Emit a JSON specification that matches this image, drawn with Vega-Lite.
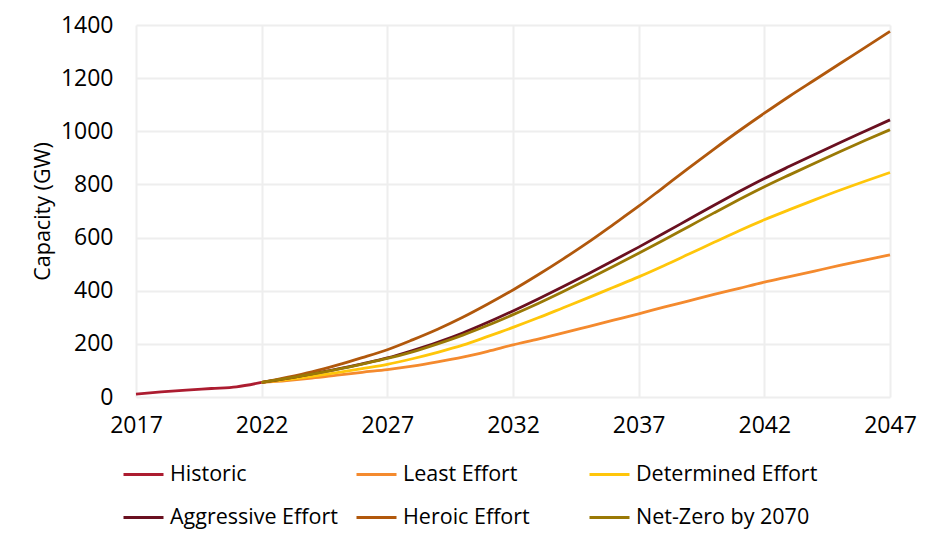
{
  "$schema": "https://vega.github.io/schema/vega-lite/v6.json",
  "autosize": "none",
  "width": 754,
  "height": 372,
  "padding": {"left": 136, "top": 25, "right": 48, "bottom": 152},
  "background": "white",
  "config": {
    "font": "Open Sans",
    "view": {"stroke": null},
    "axis": {"labelFont": "Open Sans", "titleFont": "Open Sans", "labelColor": "#000000", "titleColor": "#000000"}
  },
  "datasets": {
    "d": [
      {"series": "Historic", "year": 2017, "value": 11},
      {"series": "Historic", "year": 2018, "value": 19},
      {"series": "Historic", "year": 2019, "value": 26},
      {"series": "Historic", "year": 2020, "value": 32},
      {"series": "Historic", "year": 2021, "value": 38},
      {"series": "Historic", "year": 2022, "value": 55},

      {"series": "Least Effort", "year": 2022, "value": 55},
      {"series": "Least Effort", "year": 2023, "value": 62},
      {"series": "Least Effort", "year": 2024, "value": 71},
      {"series": "Least Effort", "year": 2025, "value": 82},
      {"series": "Least Effort", "year": 2026, "value": 93},
      {"series": "Least Effort", "year": 2027, "value": 103},
      {"series": "Least Effort", "year": 2028, "value": 116},
      {"series": "Least Effort", "year": 2029, "value": 132},
      {"series": "Least Effort", "year": 2030, "value": 150},
      {"series": "Least Effort", "year": 2031, "value": 172},
      {"series": "Least Effort", "year": 2032, "value": 196},
      {"series": "Least Effort", "year": 2033, "value": 218},
      {"series": "Least Effort", "year": 2034, "value": 241},
      {"series": "Least Effort", "year": 2035, "value": 265},
      {"series": "Least Effort", "year": 2036, "value": 289},
      {"series": "Least Effort", "year": 2037, "value": 313},
      {"series": "Least Effort", "year": 2038, "value": 338},
      {"series": "Least Effort", "year": 2039, "value": 362},
      {"series": "Least Effort", "year": 2040, "value": 386},
      {"series": "Least Effort", "year": 2041, "value": 409},
      {"series": "Least Effort", "year": 2042, "value": 432},
      {"series": "Least Effort", "year": 2043, "value": 453},
      {"series": "Least Effort", "year": 2044, "value": 474},
      {"series": "Least Effort", "year": 2045, "value": 495},
      {"series": "Least Effort", "year": 2046, "value": 515},
      {"series": "Least Effort", "year": 2047, "value": 535},

      {"series": "Determined Effort", "year": 2022, "value": 55},
      {"series": "Determined Effort", "year": 2023, "value": 65},
      {"series": "Determined Effort", "year": 2024, "value": 78},
      {"series": "Determined Effort", "year": 2025, "value": 92},
      {"series": "Determined Effort", "year": 2026, "value": 107},
      {"series": "Determined Effort", "year": 2027, "value": 123},
      {"series": "Determined Effort", "year": 2028, "value": 144},
      {"series": "Determined Effort", "year": 2029, "value": 168},
      {"series": "Determined Effort", "year": 2030, "value": 195},
      {"series": "Determined Effort", "year": 2031, "value": 228},
      {"series": "Determined Effort", "year": 2032, "value": 262},
      {"series": "Determined Effort", "year": 2033, "value": 298},
      {"series": "Determined Effort", "year": 2034, "value": 336},
      {"series": "Determined Effort", "year": 2035, "value": 374},
      {"series": "Determined Effort", "year": 2036, "value": 413},
      {"series": "Determined Effort", "year": 2037, "value": 452},
      {"series": "Determined Effort", "year": 2038, "value": 494},
      {"series": "Determined Effort", "year": 2039, "value": 538},
      {"series": "Determined Effort", "year": 2040, "value": 582},
      {"series": "Determined Effort", "year": 2041, "value": 626},
      {"series": "Determined Effort", "year": 2042, "value": 667},
      {"series": "Determined Effort", "year": 2043, "value": 705},
      {"series": "Determined Effort", "year": 2044, "value": 742},
      {"series": "Determined Effort", "year": 2045, "value": 778},
      {"series": "Determined Effort", "year": 2046, "value": 812},
      {"series": "Determined Effort", "year": 2047, "value": 845},

      {"series": "Aggressive Effort", "year": 2022, "value": 55},
      {"series": "Aggressive Effort", "year": 2023, "value": 70},
      {"series": "Aggressive Effort", "year": 2024, "value": 87},
      {"series": "Aggressive Effort", "year": 2025, "value": 105},
      {"series": "Aggressive Effort", "year": 2026, "value": 125},
      {"series": "Aggressive Effort", "year": 2027, "value": 147},
      {"series": "Aggressive Effort", "year": 2028, "value": 175},
      {"series": "Aggressive Effort", "year": 2029, "value": 206},
      {"series": "Aggressive Effort", "year": 2030, "value": 241},
      {"series": "Aggressive Effort", "year": 2031, "value": 281},
      {"series": "Aggressive Effort", "year": 2032, "value": 324},
      {"series": "Aggressive Effort", "year": 2033, "value": 369},
      {"series": "Aggressive Effort", "year": 2034, "value": 416},
      {"series": "Aggressive Effort", "year": 2035, "value": 464},
      {"series": "Aggressive Effort", "year": 2036, "value": 514},
      {"series": "Aggressive Effort", "year": 2037, "value": 564},
      {"series": "Aggressive Effort", "year": 2038, "value": 616},
      {"series": "Aggressive Effort", "year": 2039, "value": 669},
      {"series": "Aggressive Effort", "year": 2040, "value": 722},
      {"series": "Aggressive Effort", "year": 2041, "value": 773},
      {"series": "Aggressive Effort", "year": 2042, "value": 822},
      {"series": "Aggressive Effort", "year": 2043, "value": 868},
      {"series": "Aggressive Effort", "year": 2044, "value": 913},
      {"series": "Aggressive Effort", "year": 2045, "value": 957},
      {"series": "Aggressive Effort", "year": 2046, "value": 1000},
      {"series": "Aggressive Effort", "year": 2047, "value": 1043},

      {"series": "Heroic Effort", "year": 2022, "value": 55},
      {"series": "Heroic Effort", "year": 2023, "value": 74},
      {"series": "Heroic Effort", "year": 2024, "value": 95},
      {"series": "Heroic Effort", "year": 2025, "value": 120},
      {"series": "Heroic Effort", "year": 2026, "value": 148},
      {"series": "Heroic Effort", "year": 2027, "value": 178},
      {"series": "Heroic Effort", "year": 2028, "value": 215},
      {"series": "Heroic Effort", "year": 2029, "value": 255},
      {"series": "Heroic Effort", "year": 2030, "value": 300},
      {"series": "Heroic Effort", "year": 2031, "value": 350},
      {"series": "Heroic Effort", "year": 2032, "value": 403},
      {"series": "Heroic Effort", "year": 2033, "value": 460},
      {"series": "Heroic Effort", "year": 2034, "value": 520},
      {"series": "Heroic Effort", "year": 2035, "value": 583},
      {"series": "Heroic Effort", "year": 2036, "value": 650},
      {"series": "Heroic Effort", "year": 2037, "value": 718},
      {"series": "Heroic Effort", "year": 2038, "value": 790},
      {"series": "Heroic Effort", "year": 2039, "value": 862},
      {"series": "Heroic Effort", "year": 2040, "value": 933},
      {"series": "Heroic Effort", "year": 2041, "value": 1002},
      {"series": "Heroic Effort", "year": 2042, "value": 1068},
      {"series": "Heroic Effort", "year": 2043, "value": 1132},
      {"series": "Heroic Effort", "year": 2044, "value": 1193},
      {"series": "Heroic Effort", "year": 2045, "value": 1254},
      {"series": "Heroic Effort", "year": 2046, "value": 1315},
      {"series": "Heroic Effort", "year": 2047, "value": 1376},

      {"series": "Net-Zero by 2070", "year": 2022, "value": 55},
      {"series": "Net-Zero by 2070", "year": 2023, "value": 70},
      {"series": "Net-Zero by 2070", "year": 2024, "value": 86},
      {"series": "Net-Zero by 2070", "year": 2025, "value": 104},
      {"series": "Net-Zero by 2070", "year": 2026, "value": 124},
      {"series": "Net-Zero by 2070", "year": 2027, "value": 145},
      {"series": "Net-Zero by 2070", "year": 2028, "value": 170},
      {"series": "Net-Zero by 2070", "year": 2029, "value": 200},
      {"series": "Net-Zero by 2070", "year": 2030, "value": 233},
      {"series": "Net-Zero by 2070", "year": 2031, "value": 270},
      {"series": "Net-Zero by 2070", "year": 2032, "value": 310},
      {"series": "Net-Zero by 2070", "year": 2033, "value": 352},
      {"series": "Net-Zero by 2070", "year": 2034, "value": 397},
      {"series": "Net-Zero by 2070", "year": 2035, "value": 444},
      {"series": "Net-Zero by 2070", "year": 2036, "value": 492},
      {"series": "Net-Zero by 2070", "year": 2037, "value": 541},
      {"series": "Net-Zero by 2070", "year": 2038, "value": 591},
      {"series": "Net-Zero by 2070", "year": 2039, "value": 642},
      {"series": "Net-Zero by 2070", "year": 2040, "value": 693},
      {"series": "Net-Zero by 2070", "year": 2041, "value": 743},
      {"series": "Net-Zero by 2070", "year": 2042, "value": 791},
      {"series": "Net-Zero by 2070", "year": 2043, "value": 836},
      {"series": "Net-Zero by 2070", "year": 2044, "value": 880},
      {"series": "Net-Zero by 2070", "year": 2045, "value": 923},
      {"series": "Net-Zero by 2070", "year": 2046, "value": 965},
      {"series": "Net-Zero by 2070", "year": 2047, "value": 1006}
    ]
  },
  "data": {"name": "d"},
  "mark": {"type": "line", "interpolate": "monotone", "strokeWidth": 2.8},
  "encoding": {
    "x": {
      "field": "year", "type": "quantitative",
      "scale": {"domain": [2017, 2047], "nice": false, "zero": false},
      "axis": {
        "title": null, "values": [2017, 2022, 2027, 2032, 2037, 2042, 2047], "format": "d",
        "labelFontSize": 23, "labelPadding": 17, "ticks": false, "domain": false,
        "grid": true, "gridColor": "#EEEEEE", "gridWidth": 2,
        "labelFlush": false
      }
    },
    "y": {
      "field": "value", "type": "quantitative",
      "scale": {"domain": [0, 1400], "nice": false},
      "axis": {
        "title": "Capacity (GW)", "titleFontSize": 21.5, "titleFontWeight": "normal", "titlePadding": 6,
        "values": [0, 200, 400, 600, 800, 1000, 1200, 1400], "format": "d",
        "labelFontSize": 23, "labelPadding": 23, "ticks": false, "domain": false,
        "grid": true, "gridColor": "#EEEEEE", "gridWidth": 2
      }
    },
    "color": {
      "field": "series", "type": "nominal",
      "scale": {
        "domain": ["Historic", "Least Effort", "Determined Effort", "Aggressive Effort", "Heroic Effort", "Net-Zero by 2070"],
        "range": ["#AC1C30", "#F48A2E", "#FFC60A", "#6A1020", "#B1580C", "#9A7905"]
      },
      "legend": {
        "title": null, "orient": "none", "legendX": -14, "legendY": 428,
        "direction": "horizontal", "columns": 3, "gridAlign": "all",
        "symbolType": "stroke", "symbolSize": 1600, "symbolStrokeWidth": 3,
        "labelFontSize": 21.5, "labelColor": "#000000", "labelLimit": 400, "labelOffset": 5,
        "columnPadding": -2, "rowPadding": 11
      }
    },
    "order": {"field": "year"}
  }
}
